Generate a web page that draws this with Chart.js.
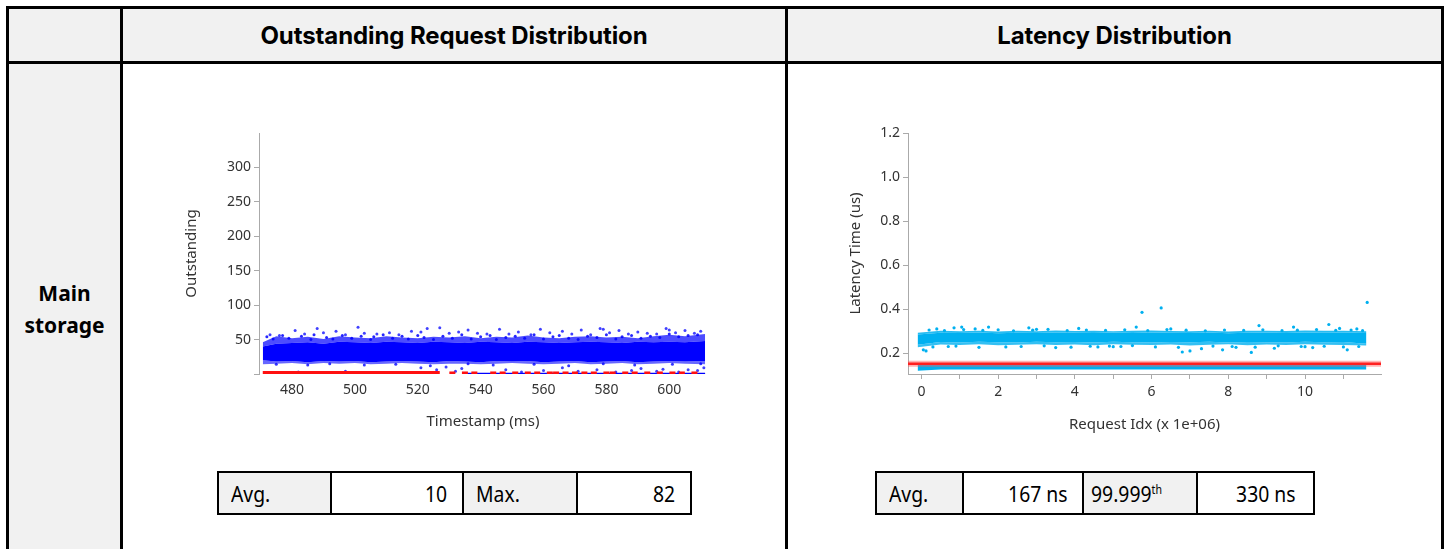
<!DOCTYPE html>
<html>
<head>
<meta charset="utf-8">
<script src="https://cdn.jsdelivr.net/npm/chart.js@4.4.1/dist/chart.umd.min.js"></script>
<style>
  html, body { margin: 0; padding: 0; background: #fff; }
  body { width: 1449px; height: 549px; position: relative; overflow: hidden; font-family: "Noto Sans", sans-serif; }
  .cell { position: absolute; box-sizing: border-box; border: 3px solid #000; }
  .gray { background: #f1f1f1; }
  .head { display: flex; align-items: center; justify-content: center; font-family: Inter, sans-serif; font-weight: 700; font-size: 24px; letter-spacing: -0.1px; color: #000; }
  .rowlabel { position: absolute; left: 6px; top: 277px; width: 117px; text-align: center; font-weight: 700; font-size: 21px; line-height: 32px; color: #000; }
  .stat { position: absolute; box-sizing: border-box; border: 2px solid #000; top: 471px; height: 44px; font-size: 22px; line-height: 40px; color: #000; white-space: nowrap; }
  .stat span { display: inline-block; transform: scaleX(0.88); }
  .stat.lab { background: #f1f1f1; text-align: left; padding-left: 12px; }
  .stat.lab span { transform-origin: left center; }
  .stat.val { background: #fff; text-align: right; }
  .stat.val span { transform-origin: right center; }
  .stat sup { font-size: 12px; vertical-align: 8px; line-height: 0; color: #000; }
  canvas { position: absolute; }
</style>
</head>
<body>

<div class="cell gray" style="left:6px; top:6px; width:117px; height:58px;"></div>
<div class="cell gray head" style="left:120px; top:6px; width:668px; height:58px;">Outstanding Request Distribution</div>
<div class="cell gray head" style="left:785px; top:6px; width:659px; height:58px;">Latency Distribution</div>
<div class="cell gray" style="left:6px; top:61px; width:117px; height:520px;"></div>
<div class="cell" style="left:120px; top:61px; width:668px; height:520px;"></div>
<div class="cell" style="left:785px; top:61px; width:659px; height:520px;"></div>
<div class="rowlabel">Main<br>storage</div>

<canvas id="outChart" width="580" height="330" style="left:150px; top:120px;"></canvas>
<canvas id="latChart" width="600" height="330" style="left:800px; top:120px;"></canvas>

<div class="stat lab" style="left:217px; width:115px;"><span>Avg.</span></div>
<div class="stat val" style="left:330px; width:134px; padding-right:15px;"><span>10</span></div>
<div class="stat lab" style="left:462px; width:116px;"><span>Max.</span></div>
<div class="stat val" style="left:576px; width:116px; padding-right:15px;"><span>82</span></div>

<div class="stat lab" style="left:875px; width:89px;"><span>Avg.</span></div>
<div class="stat val" style="left:962px; width:122px; padding-right:14px;"><span>167 ns</span></div>
<div class="stat lab" style="left:1082px; width:116px; padding-left:7px;"><span>99.999<sup>th</sup></span></div>
<div class="stat val" style="left:1196px; width:119px; padding-right:17px;"><span>330 ns</span></div>

<script>
// ---- Outstanding request distribution (timestamp in ms) ----
let outTicksX = [480, 500, 520, 540, 560, 580, 600];
let outTicksY = [0, 50, 100, 150, 200, 250, 300];

let outX          = [470.7, 475, 480, 485, 490, 495, 500, 505, 510, 515, 520, 525, 530, 535, 540, 545, 550, 555, 560, 565, 570, 575, 580, 585, 590, 595, 600, 605, 611.4];
let outCoreLow    = [20, 18, 19, 17, 19, 18, 19, 17, 18, 19, 18, 17, 19, 18, 17, 19, 18, 19, 17, 18, 19, 17, 18, 19, 17, 18, 19, 18, 19];
let outCoreHigh   = [40, 44, 45, 46, 44, 47, 46, 45, 47, 46, 45, 47, 46, 45, 47, 46, 45, 47, 46, 45, 46, 47, 46, 45, 47, 46, 47, 46, 48];
let outFringeHigh = [46, 55, 52, 54, 51, 55, 53, 52, 55, 53, 52, 54, 53, 55, 52, 54, 53, 56, 53, 52, 54, 55, 53, 54, 52, 55, 57, 55, 58];
let outFringeLow  = [14, 15, 16, 14, 16, 15, 16, 14, 15, 16, 15, 14, 15, 15, 14, 15, 16, 15, 14, 15, 16, 14, 15, 16, 14, 15, 16, 15, 14];

// scattered points above the dense band
let outDotX = [473, 476, 481, 484, 488, 490, 494, 497, 501, 503, 507, 511, 514, 518, 521, 523, 527, 530, 533, 536, 539, 542, 546, 549, 552, 556, 559, 562, 566, 569, 572, 575, 578, 579, 581, 584, 587, 590, 593, 596, 599, 600, 602, 605, 608, 610];
let outDotY = [57, 56, 63, 58, 66, 60, 62, 57, 68, 59, 58, 60, 57, 62, 61, 66, 67, 59, 61, 64, 59, 58, 65, 58, 61, 57, 65, 60, 62, 58, 64, 57, 66, 65, 60, 63, 58, 61, 59, 58, 66, 64, 60, 63, 59, 62];
let outEdgeX = [472, 474, 477, 479, 483, 486, 487, 491, 493, 496, 499, 502, 505, 506, 509, 512, 515, 517, 520, 522, 525, 528, 531, 534, 537, 540, 543, 545, 548, 551, 554, 557, 560, 563, 565, 568, 571, 574, 577, 580, 583, 585, 588, 591, 594, 597, 600, 603, 606, 609];
let outEdgeY = [54, 51, 56, 52, 55, 50, 57, 53, 51, 56, 52, 55, 50, 54, 57, 52, 55, 51, 56, 53, 50, 55, 52, 57, 51, 54, 56, 50, 53, 55, 52, 57, 51, 54, 56, 52, 50, 55, 53, 57, 51, 54, 56, 52, 55, 53, 58, 54, 56, 57];
let outUnderX = [475, 485, 492, 503, 513, 524, 536, 544, 557, 568, 579, 589, 601, 610];
let outUnderY = [14, 13, 15, 13, 14, 12, 15, 13, 14, 12, 15, 13, 14, 15];

let outLowX = [482, 497, 521, 526, 529, 532, 534, 548, 553, 560, 566, 571, 577, 583, 588, 591, 596, 598, 603, 606, 609, 611];
let outLowY = [3, 4, 9, 6, 10, 4, 8, 6, 3, 5, 9, 4, 6, 3, 5, 8, 4, 7, 3, 6, 5, 9];

let outBaseX = [535, 611.4];
let outBaseY = 0.5;
let outRedX = [470.7, 527];
let outRedDotX = [531, 535, 538, 544, 547, 551, 555, 558, 562, 564, 567, 570, 573, 576, 580, 582, 586, 589, 593, 597, 601, 604, 608];
let outRedY = 1.5;

// ---- Latency distribution (request idx x 1e+06, latency in us) ----
let latTicksX = [0, 1, 2, 3, 4, 5, 6, 7, 8, 9, 10, 11];
let latTicksY = [0.2, 0.4, 0.6, 0.8, 1.0, 1.2];

let latX          = [-0.1, 0.5, 1, 1.5, 2, 2.5, 3, 3.5, 4, 4.5, 5, 5.5, 6, 6.5, 7, 7.5, 8, 8.5, 9, 9.5, 10, 10.5, 11, 11.6];
let latCoreLow    = [0.238, 0.250, 0.248, 0.251, 0.249, 0.248, 0.251, 0.249, 0.250, 0.248, 0.251, 0.249, 0.248, 0.250, 0.249, 0.251, 0.248, 0.250, 0.249, 0.248, 0.251, 0.249, 0.250, 0.243];
let latCoreHigh   = [0.284, 0.292, 0.291, 0.293, 0.290, 0.292, 0.291, 0.294, 0.292, 0.291, 0.293, 0.291, 0.294, 0.292, 0.291, 0.293, 0.290, 0.292, 0.293, 0.291, 0.294, 0.292, 0.293, 0.291];
let latFringeHigh = [0.292, 0.301, 0.299, 0.302, 0.298, 0.301, 0.299, 0.303, 0.300, 0.302, 0.299, 0.301, 0.303, 0.300, 0.299, 0.302, 0.298, 0.301, 0.302, 0.300, 0.303, 0.301, 0.302, 0.299];
let latFringeLow  = [0.226, 0.239, 0.237, 0.240, 0.236, 0.238, 0.240, 0.237, 0.239, 0.236, 0.240, 0.238, 0.237, 0.239, 0.235, 0.238, 0.240, 0.236, 0.239, 0.237, 0.240, 0.238, 0.237, 0.235];
let latBottomLow  = [0.120, 0.126, 0.125, 0.126, 0.125, 0.126, 0.125, 0.126, 0.125, 0.126, 0.125, 0.126, 0.125, 0.126, 0.125, 0.126, 0.125, 0.126, 0.125, 0.126, 0.125, 0.126, 0.125, 0.125];
let latBottomHigh = [0.148, 0.146, 0.146, 0.147, 0.146, 0.146, 0.147, 0.146, 0.146, 0.147, 0.146, 0.146, 0.147, 0.146, 0.146, 0.147, 0.146, 0.146, 0.147, 0.146, 0.146, 0.147, 0.146, 0.146];

let latDotX = [0.05, 0.12, 0.4, 0.85, 1.05, 1.75, 2.2, 2.8, 3.5, 4.1, 4.6, 5.2, 5.6, 5.75, 6.25, 6.8, 7.0, 7.3, 7.85, 8.6, 8.8, 9.2, 9.7, 10.2, 10.62, 11.1, 11.35, 11.62, 0.7, 1.4, 3.0, 4.9, 6.5, 8.2, 9.9, 10.9];
let latDotY = [0.215, 0.21, 0.31, 0.315, 0.318, 0.318, 0.228, 0.315, 0.225, 0.312, 0.228, 0.23, 0.318, 0.385, 0.405, 0.205, 0.21, 0.22, 0.215, 0.203, 0.325, 0.222, 0.318, 0.225, 0.33, 0.215, 0.31, 0.43, 0.23, 0.31, 0.308, 0.232, 0.31, 0.226, 0.23, 0.312];
let latEdgeX = [0.2, 0.6, 1.1, 1.6, 2.0, 2.4, 2.9, 3.3, 3.8, 4.3, 4.8, 5.3, 5.9, 6.4, 6.9, 7.4, 7.9, 8.4, 8.9, 9.4, 9.8, 10.3, 10.8, 11.2, 11.5, 0.3, 0.9, 1.5, 2.6, 3.2, 3.9, 4.4, 5.0, 5.5, 6.1, 6.7, 7.6, 8.1, 8.7, 9.3, 10.0, 10.5, 11.0, 11.4];
let latEdgeY = [0.305, 0.302, 0.307, 0.303, 0.306, 0.301, 0.304, 0.308, 0.302, 0.305, 0.303, 0.306, 0.302, 0.307, 0.304, 0.301, 0.305, 0.303, 0.306, 0.302, 0.304, 0.307, 0.303, 0.305, 0.302, 0.228, 0.232, 0.226, 0.23, 0.233, 0.227, 0.231, 0.229, 0.234, 0.228, 0.226, 0.232, 0.23, 0.227, 0.233, 0.229, 0.231, 0.228, 0.23];

let latRedX = [-0.35, 11.98];
let latAvg = 0.152;

const BLUE = '#0000ff';
const SKY = '#00b0f0';
const NONE = 'rgba(0,0,0,0)';
const tickFont = { family: 'Noto Sans', size: 14 };
const titleFont = { family: 'Noto Sans', size: 15 };

function toPoints(xs, ys) {
    let pts = [];
    for (let i = 0; i < xs.length; i++) {
        pts.push({ x: xs[i], y: Array.isArray(ys) ? ys[i] : ys });
    }
    return pts;
}

function fixedTicks(values) {
    return function (scale) {
        scale.ticks = values.map(v => ({ value: v }));
    };
}

function band(xs, ys, fill, color, order) {
    return { data: toPoints(xs, ys), borderColor: NONE, borderWidth: 0, pointRadius: 0, fill: fill, backgroundColor: color, order: order, tension: 0 };
}

function dots(xs, ys, color, radius, order) {
    return { data: toPoints(xs, ys), showLine: false, pointRadius: radius, pointBorderWidth: 0, pointBackgroundColor: color, borderColor: NONE, order: order };
}

const common = {
    responsive: false,
    animation: false,
    events: [],
    plugins: { legend: { display: false }, tooltip: { enabled: false } }
};

new Chart(document.getElementById('outChart'), {
    type: 'line',
    data: {
        datasets: [
            band(outX, outCoreLow, false, NONE, 5),                       // 0
            band(outX, outCoreHigh, 0, BLUE, 4),                          // 1
            band(outX, outFringeHigh, 1, 'rgba(0,0,255,0.7)', 6),        // 2
            band(outX, outFringeLow, 0, 'rgba(0,0,255,0.6)', 6),         // 3
            dots(outDotX, outDotY, 'rgba(0,0,255,0.75)', 1.5, 3),
            dots(outEdgeX, outEdgeY, 'rgba(0,0,255,0.85)', 1.5, 3),
            dots(outUnderX, outUnderY, 'rgba(0,0,255,0.8)', 1.5, 3),
            dots(outLowX, outLowY, 'rgba(0,0,255,0.75)', 1.5, 3),
            { data: toPoints(outBaseX, outBaseY), borderColor: BLUE, borderWidth: 2, pointRadius: 0, order: 2 },
            { data: toPoints(outRedX, outRedY), borderColor: '#ff1010', borderWidth: 4, pointRadius: 0, order: 1 },
            { data: toPoints(outRedDotX, outRedY), showLine: false, pointStyle: 'line', pointRadius: 3, pointBorderWidth: 3, pointBorderColor: '#ff1010', order: 1 }
        ]
    },
    options: Object.assign({}, common, {
        layout: { padding: { left: 0, top: 13, right: 23, bottom: 0 } },
        scales: {
            x: {
                type: 'linear', min: 469.5, max: 612,
                afterBuildTicks: fixedTicks(outTicksX),
                afterFit: function (scale) { scale.height = 76; },
                grid: { display: false, drawTicks: false },
                border: { display: false },
                ticks: { color: '#333', font: tickFont, padding: 8, maxRotation: 0, autoSkip: false },
                title: { display: true, text: 'Timestamp (ms)', color: '#333', font: titleFont, padding: { top: 0, bottom: 19 } }
            },
            y: {
                type: 'linear', min: 0, max: 350,
                afterBuildTicks: fixedTicks(outTicksY),
                afterFit: function (scale) { scale.width = 109; },
                grid: { drawOnChartArea: false, tickLength: 5, color: '#aaa' },
                border: { color: '#aaa' },
                ticks: { color: '#333', font: tickFont, padding: 3, callback: v => v === 0 ? '' : v },
                title: { display: true, text: 'Outstanding', color: '#333', font: titleFont, padding: { top: 33, bottom: 0 } }
            }
        }
    })
});

new Chart(document.getElementById('latChart'), {
    type: 'line',
    data: {
        datasets: [
            band(latX, latCoreLow, false, NONE, 5),                       // 0
            band(latX, latCoreHigh, 0, SKY, 4),                           // 1
            band(latX, latFringeHigh, 1, 'rgba(0,176,240,0.85)', 6),     // 2
            band(latX, latFringeLow, 0, 'rgba(0,176,240,0.8)', 6),       // 3
            band(latX, latBottomLow, false, NONE, 5),                     // 4
            band(latX, latBottomHigh, 4, SKY, 4),                         // 5
            dots(latDotX, latDotY, SKY, 1.6, 3),
            dots(latEdgeX, latEdgeY, SKY, 1.6, 3),
            { data: toPoints(latRedX, latAvg), borderColor: 'rgba(255,90,90,0.45)', borderWidth: 6, pointRadius: 0, order: 2 },
            { data: toPoints(latRedX, latAvg), borderColor: '#ff2020', borderWidth: 2.5, pointRadius: 0, order: 1 }
        ]
    },
    options: Object.assign({}, common, {
        layout: { padding: { left: 0, top: 13, right: 19, bottom: 0 } },
        scales: {
            x: {
                type: 'linear', min: -0.35, max: 11.98,
                afterBuildTicks: fixedTicks(latTicksX),
                afterFit: function (scale) { scale.height = 76; },
                grid: { drawOnChartArea: false, tickLength: 5, color: '#aaa' },
                border: { color: '#aaa' },
                ticks: { color: '#333', font: tickFont, padding: 5, maxRotation: 0, autoSkip: false, callback: v => v % 2 === 0 ? v : '' },
                title: { display: true, text: 'Request Idx (x 1e+06)', color: '#333', font: titleFont, padding: { top: 0, bottom: 16 } }
            },
            y: {
                type: 'linear', min: 0.105, max: 1.2,
                afterBuildTicks: fixedTicks(latTicksY),
                afterFit: function (scale) { scale.width = 108; },
                grid: { drawOnChartArea: false, tickLength: 5, color: '#aaa' },
                border: { color: '#aaa' },
                ticks: { color: '#333', font: tickFont, padding: 3, callback: v => Number(v).toFixed(1) },
                title: { display: true, text: 'Latency Time (us)', color: '#333', font: titleFont, padding: { top: 47, bottom: 0 } }
            }
        }
    })
});
</script>
</body>
</html>
